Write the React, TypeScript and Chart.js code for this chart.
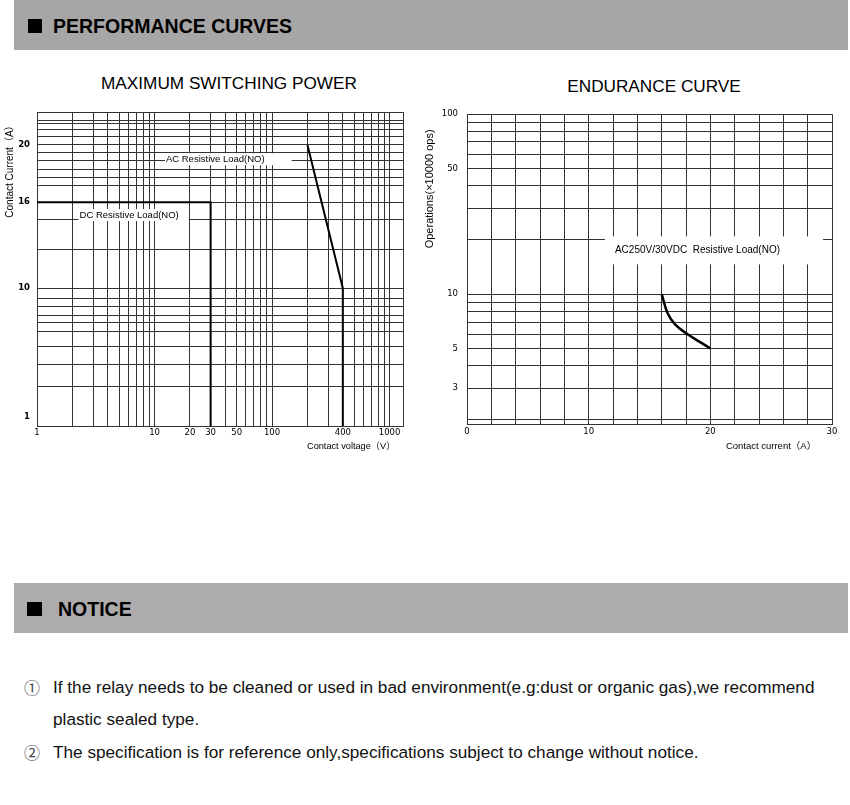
import React, { useEffect, useRef } from "react";
import { Chart, registerables } from "chart.js";

Chart.register(...registerables);

// ---------- MAXIMUM SWITCHING POWER ----------
const dcVoltage = [1, 30, 30];
const dcCurrent = [16, 16, 0];
const acVoltage = [200, 400, 400];
const acCurrent = [20, 10, 0];
const powerVoltageGrid = [1, 2, 3, 4, 5, 6, 7, 8, 9, 10, 20, 30, 40, 50, 60, 70, 80, 90, 100, 200, 300, 400, 500, 600, 700, 800, 900, 1000, 1300];
const powerVoltageLabels = [1, 10, 20, 30, 50, 100, 400, 1000];
const powerCurrentGrid = [1, 3.1, 4.7, 5.9, 7, 7.6, 8.1, 8.7, 9.3, 10, 12.7, 14.8, 16, 17.2, 17.7, 18.3, 18.9, 19.5, 20, 20.6, 21.1, 21.5, 21.7, 22.29];
const powerCurrentLabels = [1, 10, 16, 20];
const powerNoteText = ["DC Resistive Load(NO)", "AC Resistive Load(NO)"];
const powerNoteVoltage = [2.3, 12.5];
const powerNoteCurrent = [15.1, 19.0];
const POWER_V_MIN = 1;
const POWER_V_MAX = 1300;
const POWER_I_MIN = 0.376;
const POWER_I_MAX = 22.29;

// ---------- ENDURANCE CURVE ----------
const enduranceCurrent = [16, 16.5, 17.1, 18.1, 19.2, 20];
const enduranceOps = [10, 7.8, 6.8, 6.0, 5.4, 5];
const enduranceCurrentLabels = [0, 10, 20, 30];
const enduranceOpsGrid = [2, 3, 4, 5, 6, 7, 8, 9, 10, 20, 30, 40, 50, 60, 70, 80, 90, 100];
const enduranceOpsLabels = [3, 5, 10, 50, 100];
const enduranceNoteText = ["AC250V/30VDC  Resistive Load(NO)"];
const enduranceNoteCurrent = [12.16];
const enduranceNoteOps = [17.5];
const END_I_MIN = 0;
const END_I_MAX = 30;
const END_OPS_MIN = 1.9;
const END_OPS_MAX = 100;

const TICK_FONT = "'DejaVu Sans', Verdana, sans-serif";
const TEXT_FONT = "'Liberation Sans', Arial, 'Noto Sans CJK SC', sans-serif";
const GRID = "#333";
const NB = "\u00a0";

type Note = { text: string; x: number; y: number; padL: number; padR: number; halfH: number };

function notePlugin(notes: Note[], font: string) {
  return {
    id: "notes",
    beforeDatasetsDraw(chart: any) {
      const { ctx, scales } = chart;
      ctx.save();
      ctx.font = font;
      ctx.textBaseline = "middle";
      ctx.textAlign = "left";
      notes.forEach((n) => {
        const px = scales.x.getPixelForValue(n.x);
        const py = scales.y.getPixelForValue(n.y);
        const w = ctx.measureText(n.text).width;
        ctx.fillStyle = "#fff";
        ctx.fillRect(px - n.padL, py - n.halfH, w + n.padL + n.padR, n.halfH * 2);
        ctx.fillStyle = "#000";
        ctx.fillText(n.text, px, py);
      });
      ctx.restore();
    },
  };
}

function PowerChart() {
  const ref = useRef<HTMLCanvasElement | null>(null);
  useEffect(() => {
    if (!ref.current) return;
    const notes: Note[] = powerNoteText.map((t, i) => ({
      text: t,
      x: powerNoteVoltage[i],
      y: powerNoteCurrent[i],
      padL: 1,
      padR: i === 0 ? 10 : 27,
      halfH: 6,
    }));
    const chart = new Chart(ref.current, {
      type: "line",
      data: {
        datasets: [
          {
            label: "DC Resistive Load(NO)",
            data: dcVoltage.map((v, i) => ({ x: v, y: dcCurrent[i] })),
            borderColor: "#000",
            borderWidth: 2,
            pointRadius: 0,
            tension: 0,
          },
          {
            label: "AC Resistive Load(NO)",
            data: acVoltage.map((v, i) => ({ x: v, y: acCurrent[i] })),
            borderColor: "#000",
            borderWidth: 2,
            pointRadius: 0,
            tension: 0,
          },
        ],
      },
      options: {
        animation: false,
        responsive: false,
        layout: { padding: { top: 10, right: 17, left: 0, bottom: 0 } },
        plugins: { legend: { display: false }, tooltip: { enabled: false } },
        scales: {
          x: {
            type: "logarithmic",
            min: POWER_V_MIN,
            max: POWER_V_MAX,
            afterBuildTicks: (s: any) => {
              s.ticks = powerVoltageGrid.map((v) => ({ value: v }));
            },
            afterFit: (s: any) => {
              s.height = 34;
            },
            ticks: {
              autoSkip: false,
              maxRotation: 0,
              padding: 2,
              color: "#000",
              font: { family: TICK_FONT, size: 8.5 },
              callback: (v: any) => (powerVoltageLabels.includes(Number(v)) ? String(v) : ""),
            },
            grid: { color: GRID, lineWidth: 1, drawTicks: false },
            border: { display: true, color: GRID, width: 1 },
            title: {
              display: true,
              text: "Contact voltage（V）" + NB.repeat(3),
              align: "end",
              color: "#000",
              padding: { top: 0, bottom: 8.5 },
              font: { family: TEXT_FONT, size: 9.2 },
            },
          },
          y: {
            type: "linear",
            min: POWER_I_MIN,
            max: POWER_I_MAX,
            afterBuildTicks: (s: any) => {
              s.ticks = powerCurrentGrid.map((v) => ({ value: v }));
            },
            afterFit: (s: any) => {
              s.width = 37;
            },
            ticks: {
              autoSkip: false,
              padding: 7,
              color: "#000",
              font: { family: TICK_FONT, size: 8.5, weight: "bold" },
              callback: (v: any) => (powerCurrentLabels.includes(Number(v)) ? String(v) : ""),
            },
            grid: {
              drawTicks: false,
              lineWidth: 1,
              color: (c: any) => (c.tick && c.tick.value === 1 ? "rgba(0,0,0,0)" : GRID),
            },
            border: { display: true, color: GRID, width: 1 },
            title: {
              display: true,
              text: "Contact Current（A）" + NB.repeat(3),
              align: "end",
              color: "#000",
              padding: { top: 4, bottom: 0 },
              font: { family: TEXT_FONT, size: 10 },
            },
          },
        },
      } as any,
      plugins: [notePlugin(notes, `9.5px ${TEXT_FONT}`)],
    });
    return () => chart.destroy();
  }, []);
  return <canvas ref={ref} width={420} height={360} style={{ display: "block" }} />;
}

function EnduranceChart() {
  const ref = useRef<HTMLCanvasElement | null>(null);
  useEffect(() => {
    if (!ref.current) return;
    const notes: Note[] = enduranceNoteText.map((t, i) => ({
      text: t,
      x: enduranceNoteCurrent[i],
      y: enduranceNoteOps[i],
      padL: 10,
      padR: 43,
      halfH: 14,
    }));
    const chart = new Chart(ref.current, {
      type: "line",
      data: {
        datasets: [
          {
            label: "AC250V/30VDC Resistive Load(NO)",
            data: enduranceCurrent.map((v, i) => ({ x: v, y: enduranceOps[i] })),
            borderColor: "#000",
            borderWidth: 2.5,
            pointRadius: 0,
            tension: 0.4,
          },
        ],
      },
      options: {
        animation: false,
        responsive: false,
        layout: { padding: { top: 11, right: 18, left: 0, bottom: 0 } },
        plugins: { legend: { display: false }, tooltip: { enabled: false } },
        scales: {
          x: {
            type: "linear",
            min: END_I_MIN,
            max: END_I_MAX,
            afterFit: (s: any) => {
              s.height = 36;
            },
            ticks: {
              stepSize: 2,
              autoSkip: false,
              maxRotation: 0,
              padding: 3,
              color: "#000",
              font: { family: TICK_FONT, size: 8.5 },
              callback: (v: any) => (enduranceCurrentLabels.includes(Number(v)) ? String(v) : ""),
            },
            grid: { color: GRID, lineWidth: 1, drawTicks: false },
            border: { display: true, color: GRID, width: 1 },
            title: {
              display: true,
              text: "Contact current（A）" + NB.repeat(6),
              align: "end",
              color: "#000",
              padding: { top: 0, bottom: 8.3 },
              font: { family: TEXT_FONT, size: 9.5 },
            },
          },
          y: {
            type: "logarithmic",
            min: END_OPS_MIN,
            max: END_OPS_MAX,
            afterBuildTicks: (s: any) => {
              s.ticks = enduranceOpsGrid.map((v) => ({ value: v }));
            },
            afterFit: (s: any) => {
              s.width = 47;
            },
            ticks: {
              autoSkip: false,
              padding: 9,
              color: "#000",
              font: { family: TICK_FONT, size: 8.5 },
              callback: (v: any) => (enduranceOpsLabels.includes(Number(v)) ? String(v) : ""),
            },
            grid: { color: GRID, lineWidth: 1, drawTicks: false },
            border: { display: true, color: GRID, width: 1 },
            title: {
              display: true,
              text: "Operations(×10000 ops)" + NB.repeat(5),
              align: "end",
              color: "#000",
              padding: { top: 3.4, bottom: 0 },
              font: { family: TEXT_FONT, size: 11 },
            },
          },
        },
      } as any,
      plugins: [notePlugin(notes, `10px ${TEXT_FONT}`)],
    });
    return () => chart.destroy();
  }, []);
  return <canvas ref={ref} width={430} height={360} style={{ display: "block" }} />;
}

const abs = (l: number, t: number, extra: React.CSSProperties = {}): React.CSSProperties => ({
  position: "absolute",
  left: l,
  top: t,
  ...extra,
});

export default function App() {
  const bar = (top: number, color: string): React.CSSProperties =>
    abs(14, top, { width: 834, height: 50, background: color });
  const heading: React.CSSProperties = {
    fontFamily: TEXT_FONT,
    fontWeight: "bold",
    fontSize: 19.5,
    lineHeight: "19.5px",
    color: "#000",
    whiteSpace: "nowrap",
  };
  const title: React.CSSProperties = {
    transform: "translateX(-50%)",
    fontFamily: TEXT_FONT,
    fontSize: 17.2,
    lineHeight: "17.2px",
    color: "#000",
    whiteSpace: "nowrap",
  };
  const body: React.CSSProperties = {
    fontFamily: TEXT_FONT,
    fontSize: 17.2,
    lineHeight: "17.2px",
    color: "#111",
    whiteSpace: "nowrap",
  };
  const circ: React.CSSProperties = {
    fontFamily: "'Noto Sans CJK SC', 'DejaVu Sans', sans-serif",
    fontSize: 16,
    lineHeight: "17.2px",
    color: "#444",
  };
  return (
    <div style={abs(0, 0, { width: 850, height: 805, background: "#fff", overflow: "hidden" })}>
      <div style={bar(0, "#a6a6a6")} />
      <div style={abs(28, 19, { width: 14, height: 14, background: "#000" })} />
      <div style={abs(53, 17.4, heading)}>PERFORMANCE CURVES</div>

      <div style={abs(229, 74.6, title)}>MAXIMUM SWITCHING POWER</div>
      <div style={abs(654, 77.6, title)}>ENDURANCE CURVE</div>

      <div style={abs(0, 100)}>
        <PowerChart />
      </div>
      <div style={abs(420, 100)}>
        <EnduranceChart />
      </div>

      <div style={bar(583, "#adabab")} />
      <div style={abs(27, 602, { width: 15, height: 14, background: "#000" })} />
      <div style={abs(58, 599.5, heading)}>NOTICE</div>

      <div style={abs(24, 679, circ)}>①</div>
      <div style={abs(53, 679, body)}>
        If the relay needs to be cleaned or used in bad environment(e.g:dust or organic gas),we recommend
      </div>
      <div style={abs(53, 711, body)}>plastic sealed type.</div>
      <div style={abs(24, 744, circ)}>②</div>
      <div style={abs(53, 744, body)}>
        The specification is for reference only,specifications subject to change without notice.
      </div>
    </div>
  );
}
